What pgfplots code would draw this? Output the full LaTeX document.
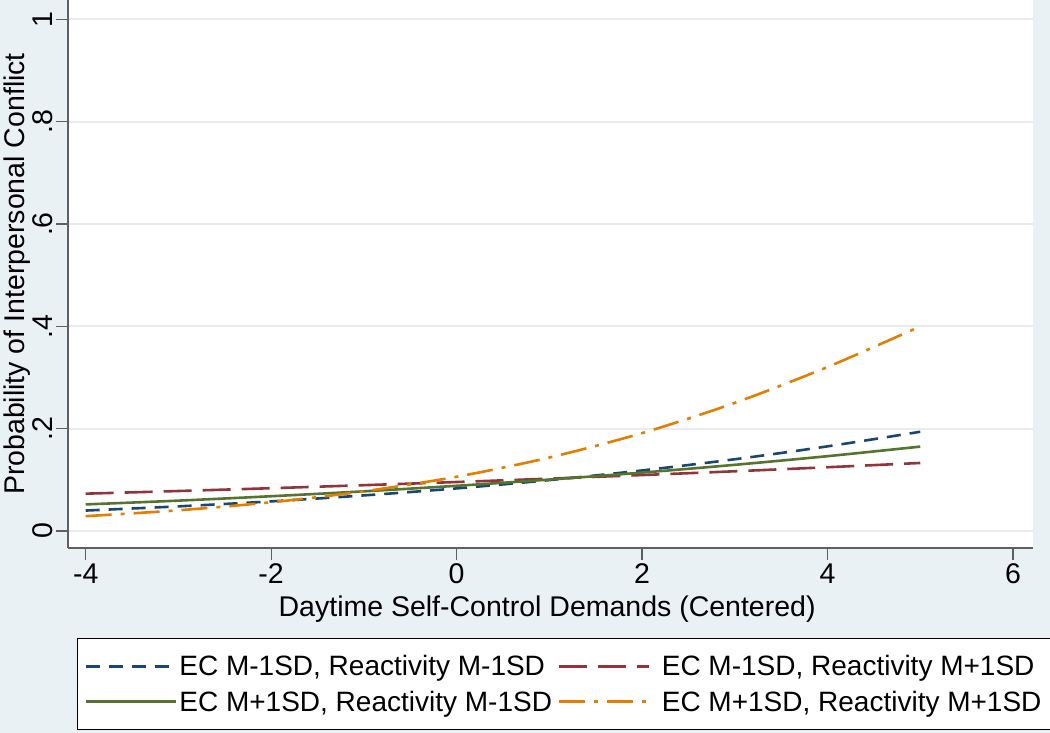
\documentclass[border=0pt]{standalone}
\usepackage{fontspec}
\setmainfont{Liberation Sans}
\usepackage{pgfplots}
\pgfplotsset{compat=1.18}
\definecolor{bg}{RGB}{233,241,244}
\definecolor{axisgray}{RGB}{95,95,95}
\definecolor{gridc}{RGB}{232,236,238}
\definecolor{stnavy}{RGB}{26,71,111}
\definecolor{stmaroon}{RGB}{144,53,59}
\definecolor{stgreen}{RGB}{85,117,47}
\definecolor{storange}{RGB}{227,126,0}
\begin{document}
\begin{tikzpicture}
\fill[bg] (0,0) rectangle (1050pt,733pt);
\begin{axis}[
  at={(68pt,185pt)}, anchor=south west,
  scale only axis, width=965pt, height=548pt,
  xmin=-4.191, xmax=6.216, ymin=-0.0332, ymax=1.0381,
  axis background/.style={fill=white},
  axis lines=left,
  axis line style={-, draw=axisgray, line width=1.3pt},
  xtick={-4,-2,0,2,4,6}, xticklabels={-4,-2,0,2,4,6},
  ytick={0,0.2,0.4,0.6,0.8,1}, yticklabels={0,.2,.4,.6,.8,1},
  tick align=outside, major tick length=12pt,
  tick style={draw=axisgray, line width=1.3pt},
  ymajorgrids, grid style={draw=gridc, line width=2pt},
  ticklabel style={font=\fontsize{28.5}{34}\selectfont, text=black},
  yticklabel style={rotate=90, anchor=south},
  xlabel={Daytime Self-Control Demands (Centered)},
  ylabel={Probability of Interpersonal Conflict},
  label style={font=\fontsize{28.5}{34}\selectfont},
  xlabel style={at={(axis description cs:0.4965,-0.1241)}, anchor=base},
  ylabel style={at={(axis description cs:-0.0528,0.5)}, anchor=center},
  legend columns=2,
  legend cell align=left,
  legend style={at={(axis description cs:0.00933,-0.1642)}, anchor=north west,
    draw=black, line width=1.2pt, fill=white,
    font=\fontsize{28}{33}\selectfont,
    inner xsep=7pt, inner ysep=15pt, row sep=9.5pt,
    /tikz/every even column/.append style={column sep=4pt},
    /tikz/column 3/.style={column sep=9pt}},
  legend image code/.code={\draw[#1] (0pt,0pt) -- (90pt,0pt);},
  legend image post style={line width=2.8pt},
]
\addplot[stnavy, line width=2.6pt, dash pattern=on 14pt off 9pt, smooth] coordinates {
(-4,0.0400) (-3,0.0482) (-2,0.0579) (-1,0.0696) (0,0.0833) (1,0.0995) (2,0.1184) (3,0.1403) (4,0.1655) (5,0.1940)};
\addlegendentry{EC M-1SD, Reactivity M-1SD}
\addplot[stmaroon, line width=2.6pt, dash pattern=on 28pt off 11pt, smooth] coordinates {
(-4,0.0730) (-3,0.0782) (-2,0.0837) (-1,0.0896) (0,0.0958) (1,0.1024) (2,0.1094) (3,0.1168) (4,0.1247) (5,0.1330)};
\addlegendentry{EC M-1SD, Reactivity M+1SD}
\addplot[stgreen, line width=2.6pt, solid, smooth] coordinates {
(-4,0.0520) (-3,0.0594) (-2,0.0680) (-1,0.0776) (0,0.0884) (1,0.1006) (2,0.1142) (3,0.1294) (4,0.1463) (5,0.1650)};
\addlegendentry{EC M+1SD, Reactivity M-1SD}
\addplot[storange, line width=2.6pt, dash pattern=on 26pt off 9pt on 4pt off 9pt, smooth] coordinates {
(-4,0.0290) (-3,0.0405) (-2,0.0562) (-1,0.0776) (0,0.1061) (1,0.1436) (2,0.1914) (3,0.2505) (4,0.3206) (5,0.4000)};
\addlegendentry{EC M+1SD, Reactivity M+1SD}
\end{axis}
\pgfresetboundingbox
\path (0,0) rectangle (1050pt,733pt);
\end{tikzpicture}
\end{document}
